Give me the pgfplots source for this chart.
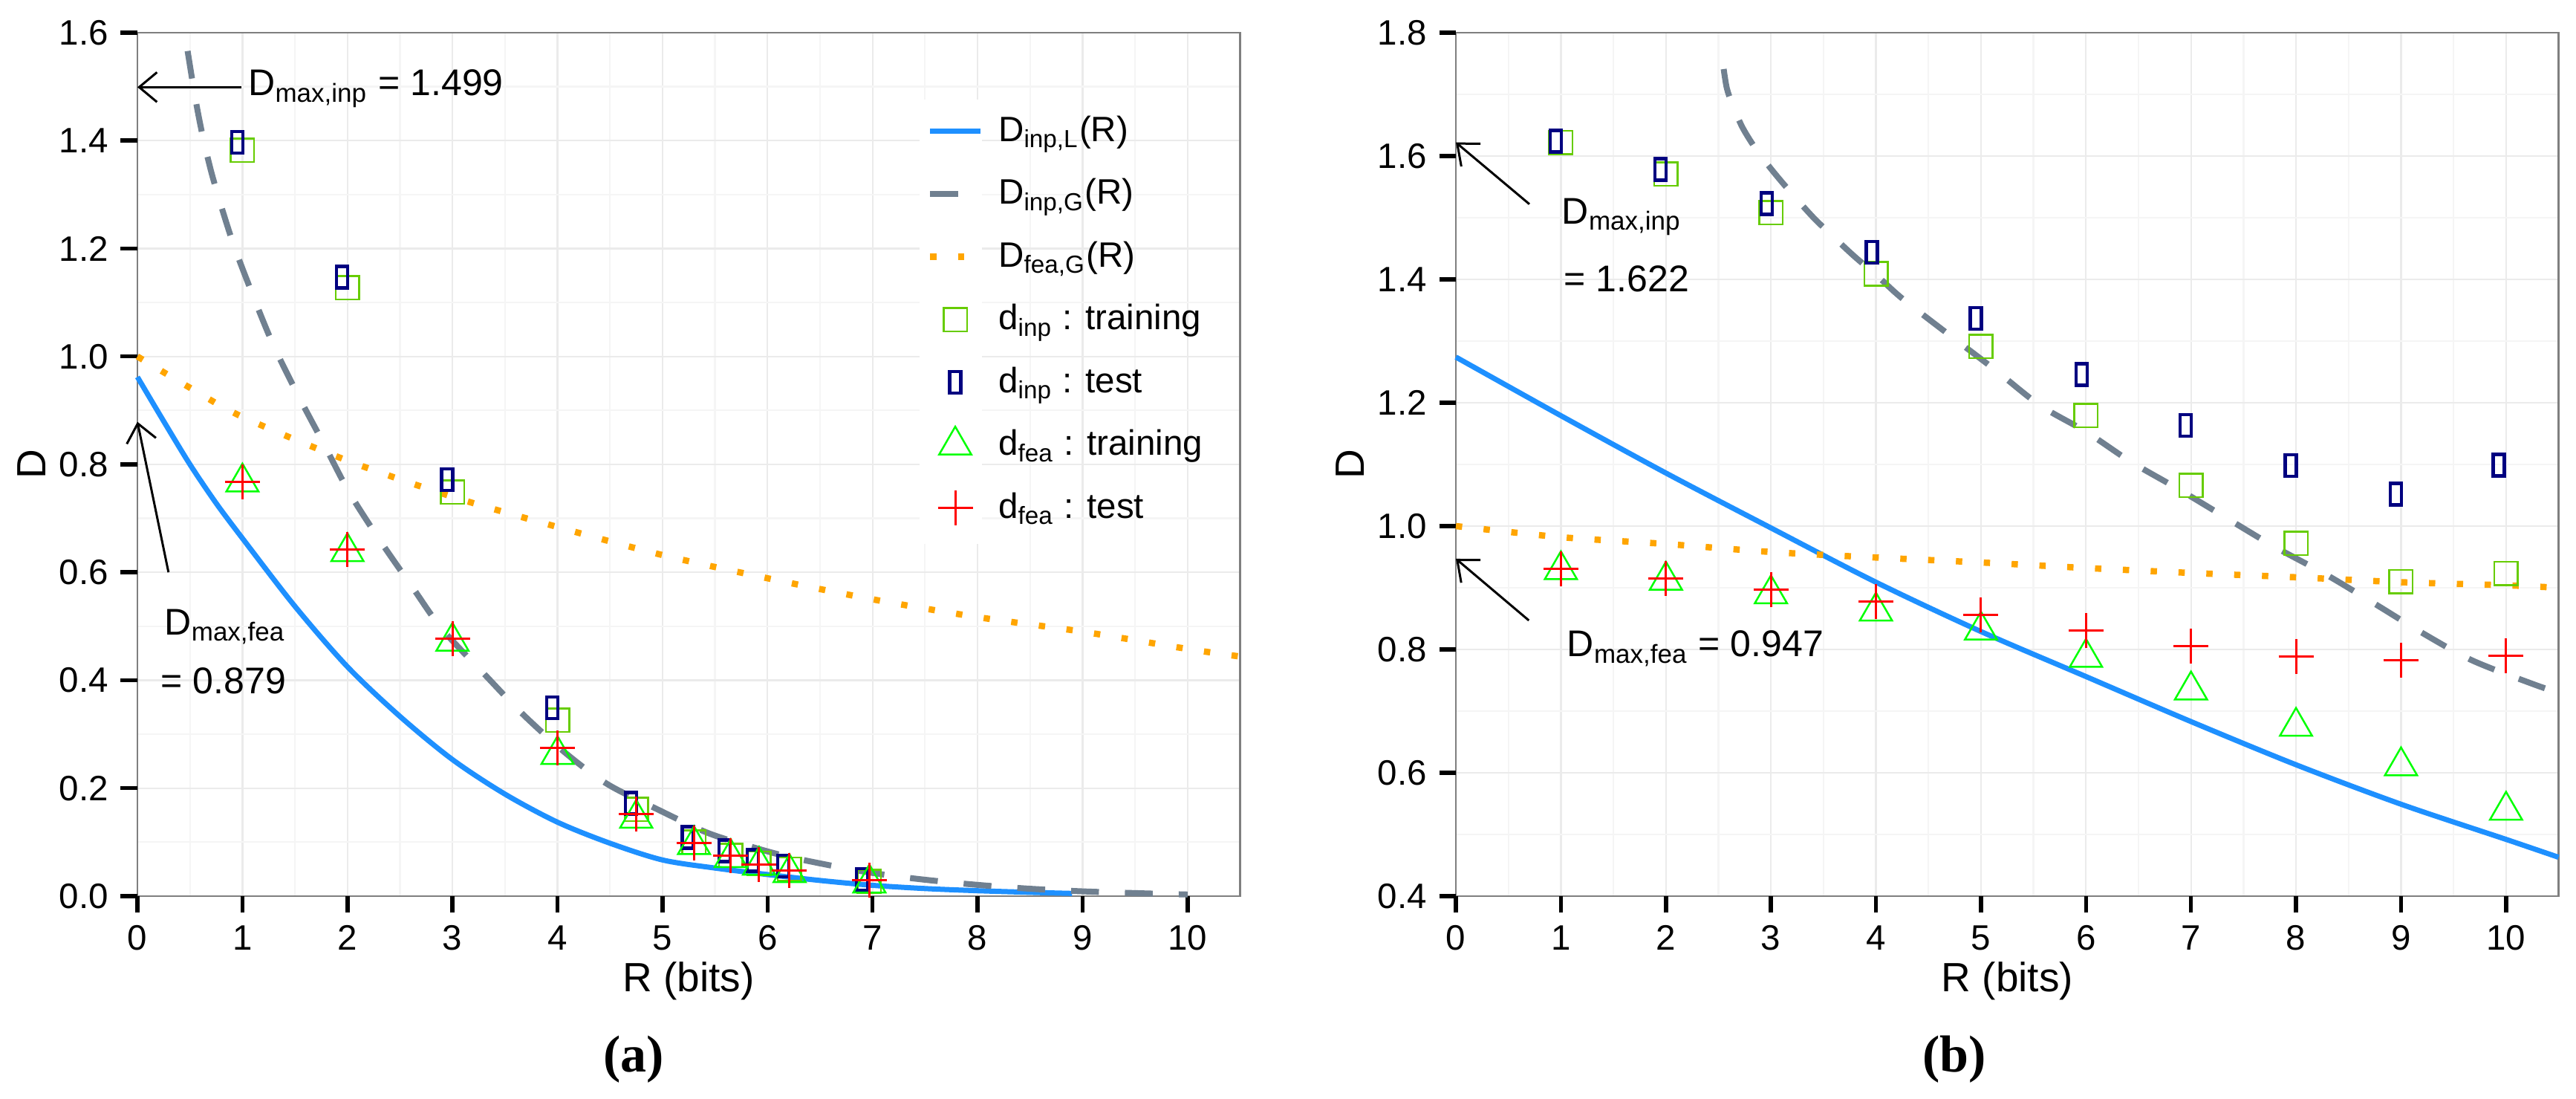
\documentclass[border=0pt]{standalone}
\usepackage{fontspec}
\setmainfont{Liberation Sans}
\newfontfamily\capfont{Liberation Serif}
\usepackage{pgfplots}
\pgfplotsset{compat=1.18}
\usetikzlibrary{arrows.meta}
\definecolor{cblue}{HTML}{1E90FF}
\definecolor{cgray}{HTML}{708090}
\definecolor{corange}{HTML}{FFA500}
\definecolor{csq}{HTML}{66CC00}
\definecolor{cnavy}{HTML}{000080}
\definecolor{ctri}{HTML}{00FF00}
\definecolor{cred}{HTML}{FF0000}
\definecolor{gmaj}{HTML}{EBEBEB}
\definecolor{gmin}{HTML}{F5F5F5}
\definecolor{cframe}{HTML}{7F7F7F}

\pgfdeclareplotmark{nrect}{%
  \pgfpathrectangle{\pgfpoint{-1.5pt}{-2.9pt}}{\pgfpoint{3pt}{5.8pt}}%
  \pgfusepathqstroke}

\tikzset{
  annot/.style={anchor=base west, inner sep=0pt, font=\fontsize{10}{12}\selectfont},
  arr/.style={-{Straight Barb[length=4.8pt,width=8pt]}, line width=0.6pt, black},
  axlab/.style={anchor=center, inner sep=0pt, font=\fontsize{11}{13}\selectfont},
  tk/.style={black, line width=1.1pt},
}

\pgfplotsset{
  myaxis/.style={
    scale only axis, width=296.9pt, height=232.4pt, clip=false,
    xmin=0, xmax=10.5, xtick={0,1,2,3,4,5,6,7,8,9,10},
    minor x tick num=1, minor y tick num=1,
    grid=both,
    major grid style={gmaj, line width=0.45pt},
    minor grid style={gmin, line width=0.45pt},
    axis line style={cframe, line width=0.45pt},
    ticklabel style={font=\fontsize{9.5}{11}\selectfont},
    /pgf/number format/assume math mode=true,
    y tick label style={/pgf/number format/.cd, fixed, fixed zerofill, precision=1, /tikz/.cd},
    xticklabel style={anchor=north, inner sep=0pt, yshift=-3.2pt},
    yticklabel style={anchor=east, inner sep=0pt, xshift=-3.1pt},
    ylabel={D},
    every axis y label/.style={at={(axis description cs:0,0.5)}, anchor=center, xshift=-28.5pt, rotate=90, font=\fontsize{11}{13}\selectfont},
  },
  lineimg/.style={legend image code/.code={\draw[##1] (0pt,2.2pt) -- (13.6pt,2.2pt);}},
  markimg/.style={legend image code/.code={\draw[##1] plot coordinates {(6.8pt,2.2pt)};}},
}

\begin{document}
\begin{tikzpicture}
\useasboundingbox (0pt,0pt) rectangle (693.6pt,295.8pt);

% ---------------- panel (a) ----------------
\begin{axis}[myaxis, at={(37pt,54.6pt)}, anchor=south west,
  tick align=outside, tick pos=left,
  major tick length=4.5pt, minor tick length=0pt,
  tick style={black, line width=1.1pt},
  ymin=0, ymax=1.6, ytick={0,0.2,0.4,0.6,0.8,1.0,1.2,1.4,1.6},
  legend style={draw=none, fill=none, inner sep=0pt, at={(axis cs:7.51,1.4617)}, anchor=north west,
    font=\fontsize{9.5}{11}\selectfont, row sep=0pt, column sep=4pt,
    nodes={inner sep=0pt, text height=9pt, text depth=7.9pt}},
  legend cell align=left]

\fill[white] (axis cs:7.45,0.653) rectangle (axis cs:8.045,1.476);
\pgfplotsinvokeforeach{0,1,2,3,4,5,6,7,8,9,10}{\draw[tk] (axis cs:#1,0) -- ++(0pt,-4.5pt);}
\pgfplotsinvokeforeach{0,0.2,0.4,0.6,0.8,1.0,1.2,1.4,1.6}{\draw[tk] (axis cs:0,#1) -- ++(-4.5pt,0pt);}

\addlegendimage{lineimg, cblue, line width=1.4pt}
\addlegendentry{D\textsubscript{inp,L}(R)}
\addlegendimage{lineimg, cgray, line width=1.6pt, dash pattern=on 7.5pt off 7pt}
\addlegendentry{D\textsubscript{inp,G}(R)}
\addlegendimage{lineimg, corange, line width=1.7pt, dash pattern=on 1.7pt off 5.8pt}
\addlegendentry{D\textsubscript{fea,G}(R)}
\addlegendimage{markimg, csq, only marks, mark=square, mark size=3.15pt, line width=0.5pt}
\addlegendentry{d\textsubscript{inp} : training}
\addlegendimage{markimg, cnavy, only marks, mark=nrect, line width=0.9pt}
\addlegendentry{d\textsubscript{inp} : test}
\addlegendimage{markimg, ctri, only marks, mark=triangle, mark size=5pt, line width=0.5pt}
\addlegendentry{d\textsubscript{fea} : training}
\addlegendimage{markimg, cred, only marks, mark=+, mark size=4.7pt, line width=0.6pt}
\addlegendentry{d\textsubscript{fea} : test}

% markers
\addplot[forget plot, csq, only marks, mark=square, mark size=3.15pt, line width=0.5pt] coordinates {
 (1,1.382) (2,1.127) (3,0.749) (4,0.326) (4.75,0.161) (5.3,0.100) (5.65,0.075) (5.92,0.061) (6.21,0.050) (6.97,0.027)};
\addplot[forget plot, cnavy, only marks, mark=nrect, line width=0.9pt] coordinates {
 (0.95,1.397) (1.95,1.147) (2.95,0.772) (3.95,0.349) (4.70,0.172) (5.24,0.109) (5.59,0.084) (5.86,0.066) (6.15,0.056) (6.90,0.031)};
\addplot[forget plot, ctri, only marks, mark=triangle, mark size=5pt, line width=0.5pt] coordinates {
 (1,0.767) (2,0.638) (3,0.472) (4,0.262) (4.75,0.144) (5.3,0.095) (5.65,0.071) (5.92,0.057) (6.21,0.043) (6.97,0.024)};
\addplot[forget plot, cred, only marks, mark=+, mark size=4.7pt, line width=0.6pt] coordinates {
 (1,0.768) (2,0.642) (3,0.477) (4,0.274) (4.75,0.152) (5.3,0.098) (5.65,0.075) (5.92,0.059) (6.21,0.048) (6.97,0.029)};

% curves
\addplot[forget plot, cblue, line width=1.4pt, smooth] coordinates {
 (0,0.962) (0.25,0.880) (0.5,0.800) (0.75,0.728) (1,0.663) (1.5,0.537) (2,0.425) (2.5,0.333)
 (3,0.253) (3.5,0.189) (4,0.137) (4.5,0.098) (5,0.067) (5.5,0.052) (6,0.040) (6.5,0.029)
 (7,0.020) (7.5,0.014) (8,0.010) (8.5,0.007) (8.9,0.005)};
\addplot[forget plot, cgray, line width=1.6pt, dash pattern=on 7.5pt off 7pt, smooth] coordinates {
 (0.478,1.566) (0.55,1.48) (0.62,1.41) (0.72,1.33) (0.9,1.216) (1.09,1.118) (1.29,1.023)
 (1.53,0.928) (1.78,0.836) (2.02,0.747) (2.32,0.656) (2.62,0.572) (2.9,0.495) (3.31,0.410)
 (3.67,0.337) (4.09,0.263) (4.48,0.207) (4.95,0.161) (5.42,0.118) (5.82,0.093) (6.22,0.072)
 (6.87,0.047) (7.38,0.033) (7.93,0.022) (8.47,0.014) (8.98,0.009) (9.52,0.0055) (10,0.003)};
\addplot[forget plot, corange, line width=1.7pt, dash pattern=on 1.7pt off 5.8pt, smooth] coordinates {
 (0,1.0) (0.5,0.942) (1,0.888) (2,0.807) (3,0.740) (4,0.684) (5,0.632) (6,0.589) (7,0.550)
 (8,0.517) (9,0.490) (10,0.458) (10.5,0.444)};

% annotations
\draw[arr] (axis cs:0.99,1.499) -- (axis cs:0,1.499);
\node[annot] at (axis cs:1.05,1.483) {D\textsubscript{max,inp} = 1.499};
\draw[arr] (axis cs:0.296,0.60) -- (axis cs:0,0.879);
\node[annot] at (axis cs:0.253,0.484) {D\textsubscript{max,fea}};
\node[annot] at (axis cs:0.217,0.375) {= 0.879};
\end{axis}

% ---------------- panel (b) ----------------
\begin{axis}[myaxis, at={(392pt,54.6pt)}, anchor=south west,
  tick align=outside, tick pos=left,
  major tick length=4.5pt, minor tick length=0pt,
  tick style={black, line width=1.1pt},
  ymin=0.4, ymax=1.8, ytick={0.4,0.6,0.8,1.0,1.2,1.4,1.6,1.8}]

\pgfplotsinvokeforeach{0,1,2,3,4,5,6,7,8,9,10}{\draw[tk] (axis cs:#1,0.4) -- ++(0pt,-4.5pt);}
\pgfplotsinvokeforeach{0.4,0.6,0.8,1.0,1.2,1.4,1.6,1.8}{\draw[tk] (axis cs:0,#1) -- ++(-4.5pt,0pt);}

\addplot[csq, only marks, mark=square, mark size=3.15pt, line width=0.5pt] coordinates {
 (1,1.622) (2,1.571) (3,1.508) (4,1.409) (5,1.291) (6,1.179) (7,1.066) (8,0.972) (9,0.910) (10,0.923)};
\addplot[cnavy, only marks, mark=nrect, line width=0.9pt] coordinates {
 (0.95,1.624) (1.95,1.578) (2.96,1.523) (3.96,1.444) (4.95,1.337) (5.96,1.246) (6.95,1.163) (7.95,1.098) (8.95,1.052) (9.93,1.099)};
\addplot[ctri, only marks, mark=triangle, mark size=5pt, line width=0.5pt] coordinates {
 (1,0.929) (2,0.912) (3,0.890) (4,0.862) (5,0.831) (6,0.787) (7,0.734) (8,0.675) (9,0.611) (10,0.539)};
\addplot[cred, only marks, mark=+, mark size=4.7pt, line width=0.6pt] coordinates {
 (1,0.931) (2,0.915) (3,0.897) (4,0.878) (5,0.856) (6,0.831) (7,0.805) (8,0.789) (9,0.782) (10,0.790)};

\addplot[cblue, line width=1.4pt, smooth] coordinates {
 (0,1.274) (1,1.179) (2,1.086) (3,0.997) (4,0.909) (5,0.829) (6,0.756) (7,0.683) (8,0.613)
 (9,0.549) (10,0.492) (10.5,0.463)};
\addplot[cgray, line width=1.6pt, dash pattern=on 7.5pt off 7pt, smooth] coordinates {
 (2.55,1.741) (2.58,1.71) (2.63,1.685) (2.73,1.646) (2.87,1.608) (3.04,1.571) (3.2,1.539)
 (3.4,1.501) (3.57,1.473) (3.79,1.438) (4.01,1.406) (4.25,1.369) (4.69,1.311) (5.13,1.254)
 (5.56,1.196) (6.0,1.153) (6.43,1.104) (6.87,1.061) (7.31,1.016) (7.78,0.968) (8.28,0.922)
 (8.75,0.874) (9.21,0.826) (9.68,0.782) (10.27,0.743) (10.5,0.73)};
\addplot[corange, line width=1.7pt, dash pattern=on 1.7pt off 5.8pt, smooth] coordinates {
 (0,1.0) (1,0.982) (2,0.971) (3,0.958) (4,0.949) (5,0.941) (6,0.932) (7,0.924) (8,0.917)
 (9,0.909) (10,0.904) (10.5,0.900)};

\draw[arr] (axis cs:0.70,1.522) -- (axis cs:0,1.622);
\node[annot] at (axis cs:1.004,1.49) {D\textsubscript{max,inp}};
\node[annot] at (axis cs:1.024,1.38) {= 1.622};
\draw[arr] (axis cs:0.695,0.847) -- (axis cs:0,0.947);
\node[annot] at (axis cs:1.053,0.788) {D\textsubscript{max,fea} = 0.947};
\end{axis}

\node[axlab] at (185.4pt,31.8pt) {R (bits)};
\node[axlab] at (540.5pt,31.8pt) {R (bits)};
\node[font=\capfont\bfseries\fontsize{14}{16}\selectfont] at (170.6pt,10.6pt) {(a)};
\node[font=\capfont\bfseries\fontsize{14}{16}\selectfont] at (526.2pt,10.6pt) {(b)};
\end{tikzpicture}
\end{document}
